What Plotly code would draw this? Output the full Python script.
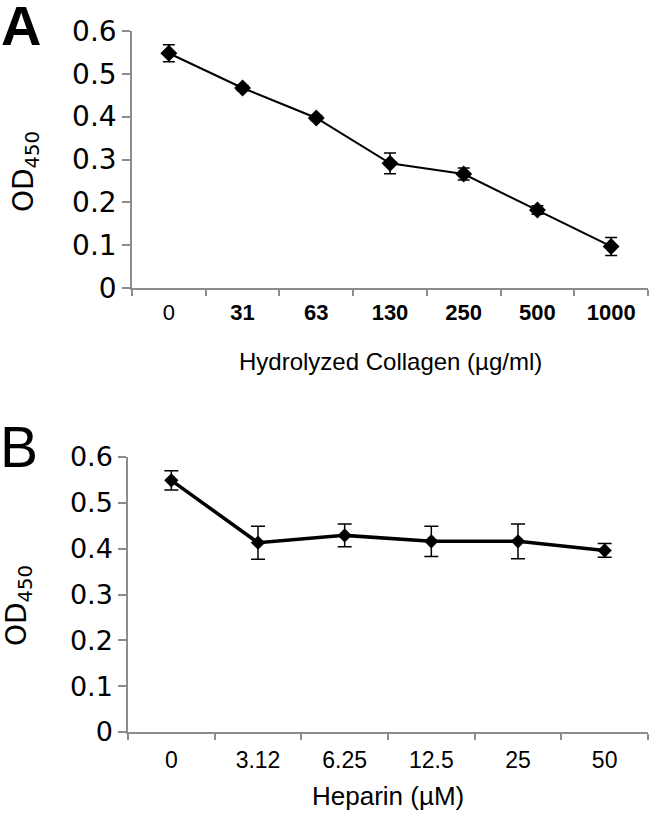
import plotly.graph_objects as go

# Panel A data
collagen_labels = ["0", "31", "63", "130", "250", "500", "1000"]
collagen_od = [0.548, 0.467, 0.397, 0.291, 0.266, 0.182, 0.097]
collagen_err = [0.020, 0.006, 0.006, 0.024, 0.014, 0.010, 0.021]

# Panel B data
heparin_labels = ["0", "3.12", "6.25", "12.5", "25", "50"]
heparin_od = [0.549, 0.413, 0.429, 0.416, 0.416, 0.396]
heparin_err = [0.021, 0.036, 0.025, 0.033, 0.038, 0.015]

y_ticks = [0, 0.1, 0.2, 0.3, 0.4, 0.5, 0.6]
y_ticktext = ["0", "0.1", "0.2", "0.3", "0.4", "0.5", "0.6"]

W, H = 650, 813
fig = go.Figure()

fig.add_trace(go.Scatter(
    x=collagen_labels, y=collagen_od, mode="lines+markers",
    line=dict(color="black", width=2),
    marker=dict(symbol="diamond", size=13, color="black"),
    error_y=dict(type="data", array=collagen_err, color="black", thickness=1.5, width=6),
    xaxis="x", yaxis="y", showlegend=False))

fig.add_trace(go.Scatter(
    x=heparin_labels, y=heparin_od, mode="lines+markers",
    line=dict(color="black", width=3.5),
    marker=dict(symbol="diamond", size=11, color="black"),
    error_y=dict(type="data", array=heparin_err, color="black", thickness=1.5, width=7),
    xaxis="x2", yaxis="y2", showlegend=False))

axis_color = "#8c8c8c"
xa_ticktext = [collagen_labels[0]] + ["<b>%s</b>" % t for t in collagen_labels[1:]]

common_x = dict(type="category", tickson="boundaries", ticks="outside", ticklen=6,
                tickcolor=axis_color, tickwidth=1.5, showline=True, linecolor=axis_color,
                linewidth=1.5, showgrid=False, automargin=False, fixedrange=True)
common_y = dict(range=[0, 0.6], tickmode="array", tickvals=y_ticks, ticktext=y_ticktext,
                ticks="outside", ticklen=8, tickcolor=axis_color, tickwidth=1.5,
                showline=True, linecolor=axis_color, linewidth=1.5, showgrid=False,
                zeroline=False, automargin=False, ticklabelstandoff=0)

fig.update_layout(
    width=W, height=H, margin=dict(l=0, r=0, t=0, b=0, autoexpand=False),
    paper_bgcolor="white", plot_bgcolor="white",
    xaxis=dict(domain=[132 / W, 648 / W], anchor="y",
               tickmode="array", tickvals=collagen_labels, ticktext=xa_ticktext,
               tickfont=dict(family="Liberation Sans", size=22, color="black"),
               ticklabelstandoff=4,
               range=[-0.5, 6.5], **common_x),
    yaxis=dict(domain=[1 - 288 / H, 1 - 31 / H], anchor="x",
               tickfont=dict(family="DejaVu Sans", size=28, color="black"), **common_y),
    xaxis2=dict(domain=[128 / W, 648 / W], anchor="y2",
                tickmode="array", tickvals=heparin_labels, ticktext=heparin_labels,
                tickfont=dict(family="Liberation Sans", size=23, color="black"),
                ticklabelstandoff=7,
                range=[-0.5, 5.5], **common_x),
    yaxis2=dict(domain=[1 - 732 / H, 1 - 457 / H], anchor="x2",
                tickfont=dict(family="DejaVu Sans", size=27, color="black"), **common_y),
)

def ann(text, x, y, size, family="Liberation Sans", angle=0, bold=False):
    fig.add_annotation(text=("<b>%s</b>" % text) if bold else text,
                       x=x / W, y=1 - y / H, xref="paper", yref="paper",
                       showarrow=False, textangle=angle,
                       font=dict(family=family, size=size, color="black"),
                       xanchor="center", yanchor="middle")

ann("A", 21, 25, 56, bold=True)
ann("B", 19, 447, 57)
ann("OD<sub>450</sub>", 25, 172, 28, family="DejaVu Sans", angle=-90)
ann("OD<sub>450</sub>", 18, 606, 28, family="DejaVu Sans", angle=-90)
ann("Hydrolyzed Collagen (µg/ml)", 390, 361, 24)
ann("Heparin (µM)", 388, 796, 26)

fig.write_html("out.html", config={"displayModeBar": False},
               post_script="document.body.style.margin='0';")
